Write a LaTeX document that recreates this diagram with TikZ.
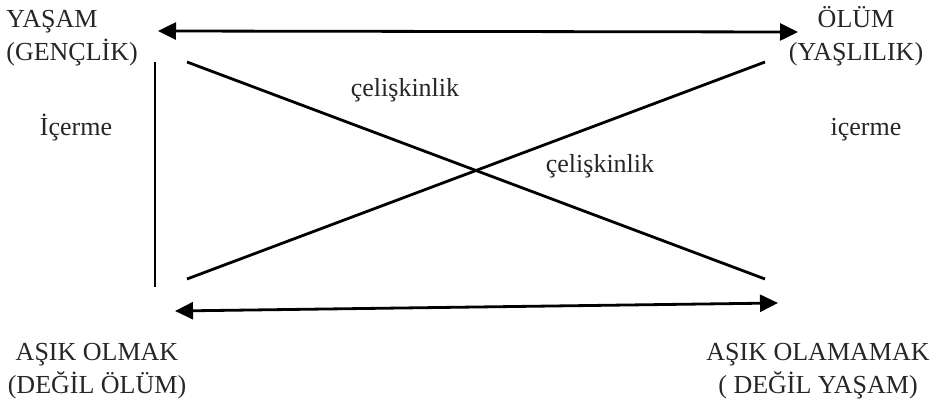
\documentclass[tikz,border=0pt]{standalone}
\usepackage{fontspec}
\setmainfont{Liberation Serif}
\usetikzlibrary{arrows.meta}
\tikzstyle{term}=[inner sep=0pt, align=center, font=\fontsize{13}{16.5}\selectfont, text=black!85]
\tikzstyle{rel}=[inner sep=0pt, font=\fontsize{13}{15}\selectfont, text=black!85]
\tikzstyle{edge}=[draw, line width=1.4pt]
\tikzstyle{arrow}=[edge, {Triangle[length=9pt,width=8.5pt]}-{Triangle[length=9pt,width=8.5pt]}]
\begin{document}
\begin{tikzpicture}[x=0.5pt, y=-0.5pt]
    \useasboundingbox (0,0) rectangle (948,407);

    % the four terms of the square (base = last line)
    \node[term, anchor=base west, align=left] (yasam) at (6,60) {YAŞAM\\(GENÇLİK)};
    \node[term, anchor=base] (olum) at (856,60) {ÖLÜM\\(YAŞLILIK)};
    \node[term, anchor=base] (olmak) at (97,393) {AŞIK OLMAK\\(DEĞİL ÖLÜM)};
    \node[term, anchor=base] (olamamak) at (818,393) {AŞIK OLAMAMAK\\( DEĞİL YAŞAM)};

    % relation names
    \foreach \pos/\name/\rel in {
                            {(76,135)/icermeL/İçerme},
                            {(866,135)/icermeR/içerme},
                            {(405,96)/celisA/çelişkinlik},
                            {(600,172)/celisB/çelişkinlik}}
        \node[rel, anchor=base] (\name) at \pos {\rel};

    % ends of the lines
    \foreach \pos/\name in {{(158,31)/a1}, {(798,32)/a2}, {(175,311)/b1}, {(778,303)/b2},
                            {(155,62)/v1}, {(155,287)/v2},
                            {(187,62)/d1}, {(765,279)/d2}, {(187,279)/d3}, {(765,62)/d4}}
        \path \pos coordinate (\name);

    \draw[arrow] (a1) -- (a2);
    \draw[arrow] (b1) -- (b2);
    \path[edge] (v1) -- (v2);
    \path[edge] (d1) -- (d2);
    \path[edge] (d3) -- (d4);

\end{tikzpicture}
\end{document}
